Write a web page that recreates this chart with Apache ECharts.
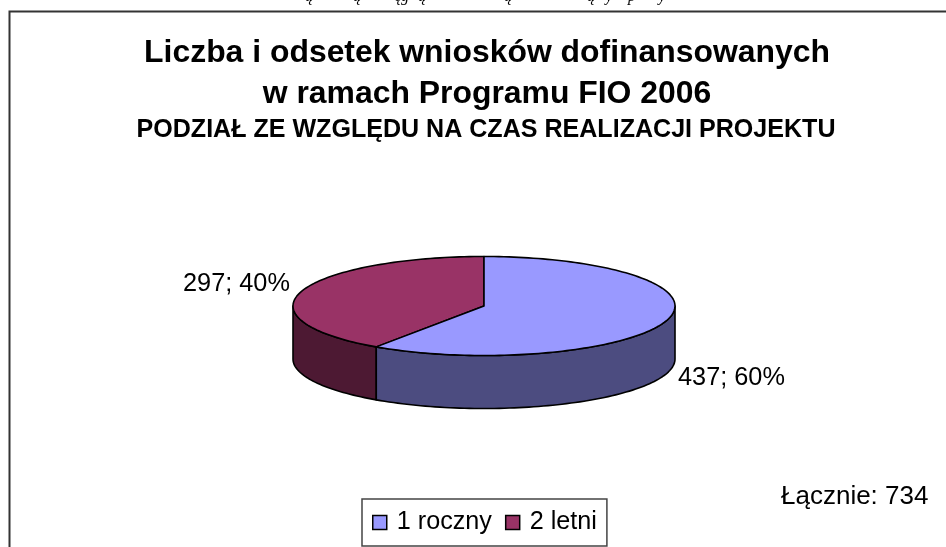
<!DOCTYPE html>
<html><head><meta charset="utf-8">
<style>html,body{margin:0;padding:0;background:#fff}#c{width:946px;height:547px}</style>
<script src="https://cdn.jsdelivr.net/npm/echarts@6/dist/echarts.min.js"></script>
</head><body><div id="c"></div>
<script>
const categories = ['1 roczny', '2 letni'];
const values = [437, 297];
const total = 734;
const topColors = ['#9999FF', '#993366'];
const sideColors = ['#4C4C80', '#4D1933'];
const titleLines = 'Liczba i odsetek wniosków dofinansowanych\nw ramach Programu FIO 2006';
const subtitle = 'PODZIAŁ ZE WZGLĘDU NA CZAS REALIZACJI PROJEKTU';
const totalLabel = 'Łącznie: ' + total;
const clippedGlyphs = [['ą',309],['ą',357],['ę',398],['g',405],['ą',422],['ą',508],['ą',591],['y',609],['p',632],['y',662]];

const FONT = '"Liberation Sans", Arial, sans-serif';
const cx = 484, cy = 306, rx = 191, ry = 49.5, depth = 53;
const sum = values.reduce((a, b) => a + b, 0);
const pt = (deg, dy) => {
  const r = deg * Math.PI / 180;
  return [cx + rx * Math.sin(r), cy - ry * Math.cos(r) + (dy || 0)];
};
const arc = (a, b, dy) => {
  const n = Math.max(2, Math.ceil(Math.abs(b - a) / 1.5));
  const out = [];
  for (let i = 0; i <= n; i++) out.push(pt(a + (b - a) * i / n, dy));
  return out;
};
const spans = [];
values.reduce((acc, v) => { const e = acc + v / sum * 360; spans.push([acc, e]); return e; }, 0);
const labelPos = [[678, 378], [183, 284]];

function sliceSeries(idx) {
  return {
    type: 'custom', name: categories[idx], coordinateSystem: 'none',
    itemStyle: { color: topColors[idx] }, data: [values[idx]], animation: false, silent: true,
    z: idx === 0 ? 3 : 2,
    renderItem: function () {
      const [a, b] = spans[idx];
      const children = [];
      const s = Math.max(a, 90), e = Math.min(b, 270);
      if (e > s) {
        children.push({ type: 'polygon',
          shape: { points: arc(s, e, 0).concat(arc(e, s, depth)) },
          style: { fill: sideColors[idx], stroke: '#000', lineWidth: 1.6, lineJoin: 'round' } });
      }
      children.push({ type: 'polygon',
        shape: { points: [[cx, cy]].concat(arc(a, b, 0)) },
        style: { fill: topColors[idx], stroke: '#000', lineWidth: 1.6, lineJoin: 'round' } });
      children.push({ type: 'text',
        style: { x: labelPos[idx][0], y: labelPos[idx][1], verticalAlign: 'middle',
          text: values[idx] + '; ' + Math.round(values[idx] / sum * 100) + '%',
          font: '25.3px ' + FONT, fill: '#000' } });
      return { type: 'group', children };
    }
  };
}

const chart = echarts.init(document.getElementById('c'), null, { renderer: 'canvas' });
chart.setOption({
  animation: false,
  backgroundColor: '#fff',
  title: [
    { text: titleLines, left: 487, top: 33, textAlign: 'center',
      textStyle: { fontFamily: FONT, fontSize: 31.9, fontWeight: 'bold', color: '#000', lineHeight: 41 }, padding: 0 },
    { text: subtitle, left: 486, top: 116, textAlign: 'center',
      textStyle: { fontFamily: FONT, fontSize: 25.07, fontWeight: 'bold', color: '#000', lineHeight: 28 }, padding: 0 }
  ],
  legend: {
    left: 362, top: 499, icon: 'rect', itemWidth: 14, itemHeight: 14, itemGap: 13,
    padding: [11, 10, 11, 10], borderColor: '#444', borderWidth: 1.5, backgroundColor: '#fff',
    selectedMode: false, data: categories,
    textStyle: { fontFamily: FONT, fontSize: 25.2, color: '#000', padding: [0, 0, 0, 5] },
    itemStyle: { borderColor: '#000', borderWidth: 1.5 }
  },
  graphic: [
    { type: 'polyline', silent: true, shape: { points: [[9.5, 560], [9.5, 11.5], [960, 11.5]] },
      style: { fill: null, stroke: '#333', lineWidth: 2 } },
    { type: 'text', silent: true, style: { x: 781, y: 497, verticalAlign: 'middle', text: totalLabel,
      font: '26px ' + FONT, fill: '#000' } }
  ].concat(clippedGlyphs.map(([ch, x]) => ({ type: 'text', silent: true,
      style: { x, y: 5, align: 'center', verticalAlign: 'bottom', text: ch,
        font: 'italic 16px "Liberation Serif", serif', fill: '#000' } }))),
  series: [sliceSeries(1), sliceSeries(0)]
});
</script></body></html>
